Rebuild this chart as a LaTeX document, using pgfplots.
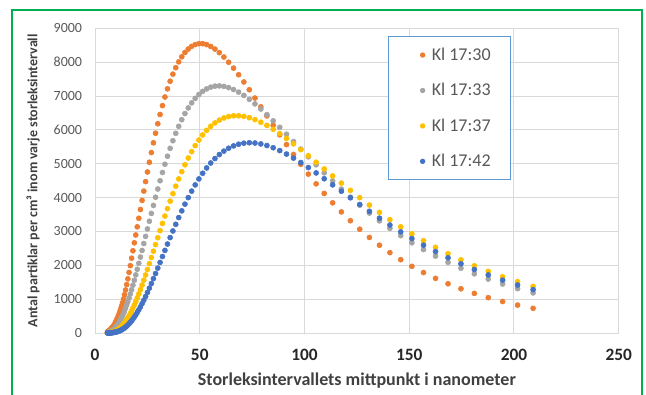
\documentclass[border=0pt]{standalone}
\usepackage{fontspec}
\setmainfont{Carlito}
\usepackage{pgfplots}
\usepackage{pgfplotstable}
\pgfplotsset{compat=1.18}
\definecolor{cO}{HTML}{ED7D31}
\definecolor{cG}{HTML}{A5A5A5}
\definecolor{cY}{HTML}{FFC000}
\definecolor{cB}{HTML}{4472C4}
\definecolor{gridc}{HTML}{D9D9D9}
\definecolor{frameg}{HTML}{00B050}
\definecolor{legb}{HTML}{5B9BD5}
\definecolor{txt}{HTML}{595959}
\definecolor{dtxt}{HTML}{404040}

\pgfplotstableread{
x o g yl b
5.94 36 15 4 1
6.15 44 18 5 2
6.38 52 22 6 2
6.61 62 26 8 3
6.86 74 31 9 3
7.11 88 38 11 4
7.37 104 45 14 5
7.64 122 53 17 6
7.92 143 63 21 8
8.21 168 75 25 10
8.51 180 89 30 12
8.82 210 104 36 15
9.14 240 122 43 18
9.48 275 143 52 22
9.82 320 166 62 26
10.18 370 193 73 32
10.56 420 224 87 38
10.94 475 259 102 46
11.34 540 298 120 55
11.76 615 342 141 65
12.19 700 392 165 78
12.64 790 447 192 92
13.10 890 508 223 109
13.58 1000 576 258 128
14.08 1130 652 297 150
14.59 1270 735 342 175
15.13 1430 826 392 204
15.68 1600 925 448 237
16.26 1790 1033 510 274
16.85 1990 1151 578 315
17.47 2210 1278 654 362
18.11 2430 1414 737 414
18.77 2665 1560 829 473
19.46 2896 1717 928 537
20.17 3137 1883 1037 608
20.91 3389 2059 1154 687
21.68 3649 2244 1280 773
22.47 3917 2439 1415 867
23.29 4192 2643 1560 969
24.15 4472 2855 1714 1079
25.03 4757 3074 1876 1198
25.95 5044 3301 2048 1325
26.90 5331 3533 2229 1461
27.89 5618 3770 2417 1605
28.91 5902 4011 2612 1757
29.97 6182 4254 2815 1917
31.06 6455 4499 3024 2085
32.20 6718 4742 3237 2260
33.38 6972 4985 3455 2441
34.60 7213 5222 3674 2628
35.87 7438 5455 3895 2819
37.19 7648 5681 4117 3014
38.55 7838 5899 4337 3211
39.96 8010 6106 4553 3410
41.42 8160 6301 4766 3609
42.94 8287 6483 4971 3806
44.52 8389 6649 5170 4000
46.15 8468 6799 5358 4191
47.83 8520 6931 5535 4375
49.59 8547 7045 5700 4552
51.40 8547 7139 5851 4719
53.29 8520 7212 5987 4876
55.24 8466 7263 6106 5022
57.26 8387 7292 6207 5154
59.36 8282 7300 6289 5272
61.53 8153 7285 6352 5374
63.79 7999 7250 6394 5459
66.13 7825 7193 6417 5527
68.55 7630 7116 6418 5577
71.06 7416 7019 6400 5608
73.66 7186 6902 6361 5620
76.36 6941 6768 6303 5612
79.16 6682 6617 6227 5585
82.06 6414 6451 6132 5538
85.06 6137 6269 6019 5473
88.18 5853 6076 5890 5388
91.41 5565 5871 5747 5287
94.76 5275 5656 5589 5168
98.23 4983 5433 5418 5035
101.83 4694 5204 5237 4888
105.56 4407 4969 5045 4728
109.42 4123 4732 4846 4557
113.43 3846 4492 4640 4377
117.60 3577 4252 4429 4189
121.90 3317 4013 4214 3995
126.37 3065 3776 3998 3797
130.99 2823 3543 3780 3595
135.79 2593 3314 3563 3393
140.77 2374 3091 3348 3190
145.93 2166 2875 3137 2988
151.26 1970 2666 2930 2790
156.81 1786 2465 2728 2595
162.55 1615 2272 2531 2406
168.51 1455 2088 2342 2222
174.68 1307 1914 2160 2046
181.08 1170 1749 1986 1876
187.72 1045 1593 1820 1715
194.58 930 1447 1663 1562
201.71 825 1310 1515 1417
209.12 729 1184 1376 1282
}\data

\begin{document}
\begin{tikzpicture}[x=1pt,y=1pt]
\useasboundingbox (0,0) rectangle (484.5,295.5);
\draw[frameg, line width=1.5pt] (8.8,-3) -- (8.8,288) -- (481.3,288) -- (481.3,-3);
\begin{axis}[
  at={(71.25pt,45.75pt)}, anchor=south west,
  scale only axis, width=392.8pt, height=228.5pt,
  xmin=0, xmax=250, ymin=0, ymax=9000,
  xtick={0,50,...,250}, ytick={0,1000,...,9000},
  grid=major, major grid style={gridc, line width=0.75pt},
  axis line style={draw=none},
  major tick length=0pt,
  clip=false,
  /pgf/number format/1000 sep={},
  /pgf/number format/assume math mode=true,
  yticklabel style={font=\fontsize{10.5}{12}\selectfont, text=txt, anchor=east, inner sep=0pt, xshift=-9.5pt},
  xticklabel style={font=\fontsize{13}{15}\selectfont\bfseries, text=black!85, anchor=center, inner sep=0pt, yshift=-16.5pt},
  xlabel={Storleksintervallets mittpunkt i nanometer},
  ylabel={Antal partiklar per cm³ inom varje storleksintervall},
  xlabel style={font=\fontsize{13.5}{15}\selectfont\bfseries, text=dtxt, at={(axis description cs:0.5,-0.1575)}, anchor=center},
  ylabel style={font=\fontsize{10.5}{12}\selectfont\bfseries, text=dtxt, at={(axis description cs:-0.1184,0.5)}, anchor=center},
  legend style={at={(axis description cs:0.560,0.975)}, anchor=north west, draw=legb, line width=0.75pt,
    font=\fontsize{13.5}{15}\selectfont, nodes={text=txt}, inner xsep=13pt, inner ysep=6.5pt, row sep=11.7pt},
  legend cell align=left,
  legend image code/.code={\path (-7.5pt,0pt) (9pt,0pt); \draw[#1,mark size=1.6pt] plot coordinates {(4.5pt,0pt)};},
]
\addplot[cO, only marks, mark=*, mark size=1.9pt, mark options={draw=none}] table[x=x,y=o]{\data};
\addlegendentry{Kl 17:30}
\addplot[cG, only marks, mark=*, mark size=1.9pt, mark options={draw=none}] table[x=x,y=g]{\data};
\addlegendentry{Kl 17:33}
\addplot[cY, only marks, mark=*, mark size=1.9pt, mark options={draw=none}] table[x=x,y=yl]{\data};
\addlegendentry{Kl 17:37}
\addplot[cB, only marks, mark=*, mark size=1.9pt, mark options={draw=none}] table[x=x,y=b]{\data};
\addlegendentry{Kl 17:42}
\end{axis}
\end{tikzpicture}
\end{document}
